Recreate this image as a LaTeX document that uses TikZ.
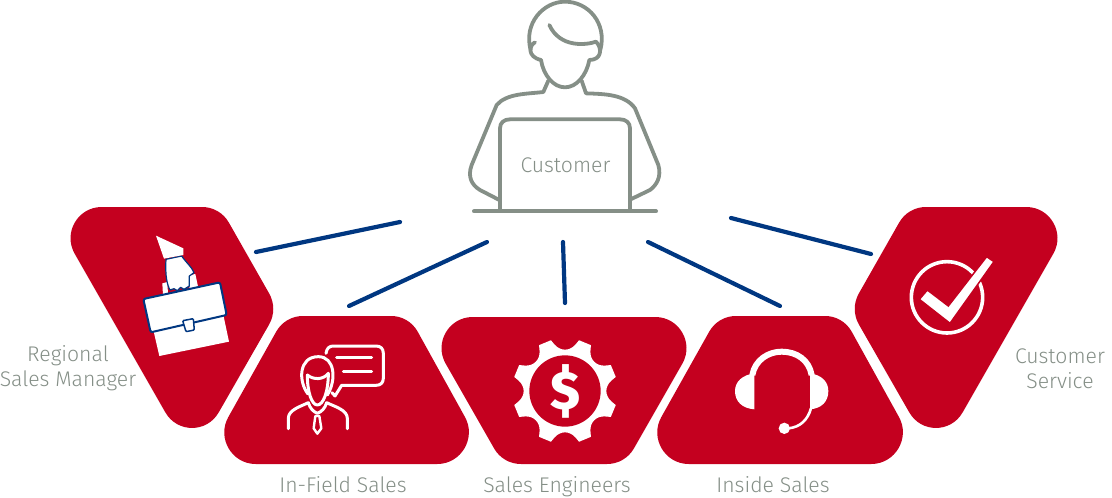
\documentclass[tikz,border=0pt]{standalone}
\usepackage{fontspec}
\usetikzlibrary{calc}
\setmainfont{Fira Sans Light}
\newfontfamily\boldf{Fira Sans}[UprightFont=* ExtraBold]
\definecolor{brandred}{HTML}{C4001F}
\definecolor{brandgray}{HTML}{858F87}
\definecolor{brandblue}{HTML}{003781}
% one rounded corner: previous point, corner, next point
\def\rcA#1#2#3{-- ($(#2)!53.7pt!(#1)$) .. controls ($(#2)!29.8pt!(#1)$) and ($(#2)!29.8pt!(#3)$) .. ($(#2)!53.7pt!(#3)$)}
\def\rcB#1#2#3{-- ($(#2)!17.9pt!(#1)$) .. controls ($(#2)!6.8pt!(#1)$) and ($(#2)!6.8pt!(#3)$) .. ($(#2)!17.9pt!(#3)$)}
\tikzset{
  panel/.style={fill=brandred},
  link/.style={draw=brandblue,line width=4.2pt,line cap=round},
  figline/.style={draw=brandgray,line width=3.8pt,line cap=round,line join=round},
  iconline/.style={draw=white,line width=3pt,line cap=round,line join=round},
  lab/.style={text=brandgray,align=center,font=\fontsize{21.2}{25}\selectfont},
  zoomA/.style={x=0.33333pt,y=-0.33333pt},
}
\begin{document}
\begin{tikzpicture}[x=1pt,y=-1pt]
\useasboundingbox (0,0) rectangle (1112,498);
% panels
\path[panel] (134,207) \rcB{48,207}{220,207}{278,309} \rcB{220,207}{278,309}{192,459} \rcA{278,309}{192,459}{48,207} \rcA{192,459}{48,207}{220,207} -- cycle;
\path[panel] (347,316) \rcB{285,316}{409,316}{491,464} \rcA{409,316}{491,464}{202,464} \rcA{491,464}{202,464}{285,316} \rcB{202,464}{285,316}{409,316} -- cycle;
\path[panel] (564,317) \rcA{419,317}{709,317}{625,464} \rcB{709,317}{625,464}{503,464} \rcB{625,464}{503,464}{419,317} \rcA{503,464}{419,317}{709,317} -- cycle;
\path[panel] (781,316) \rcB{719,316}{843,316}{925,464} \rcA{843,316}{925,464}{635,464} \rcA{925,464}{635,464}{718,316} \rcB{635,464}{718,316}{843,316} -- cycle;
\path[panel] (994,207) \rcA{908,207}{1080,207}{936,459} \rcA{1080,207}{936,459}{850,309} \rcB{936,459}{850,309}{908,207} \rcB{850,309}{908,207}{1080,207} -- cycle;
% connectors
\coordinate (a1) at (256,252); \coordinate (b1) at (400,222);
\coordinate (a2) at (349,306); \coordinate (b2) at (487,242);
\coordinate (a3) at (565,303); \coordinate (b3) at (563,242);
\coordinate (a4) at (780,306); \coordinate (b4) at (648,242);
\coordinate (a5) at (871,254); \coordinate (b5) at (731,218);
\draw[link] (a1) -- (b1);
\draw[link] (a2) -- (b2);
\draw[link] (a3) -- (b3);
\draw[link] (a4) -- (b4);
\draw[link] (a5) -- (b5);
% customer figure
\begin{scope}[shift={(460,0)},zoomA]
\draw[figline] (225,127) .. controls (208,135) and (200,170) .. (243,180)
  .. controls (250,225) and (280,262) .. (315,262)
  .. controls (350,262) and (380,225) .. (388,180)
  .. controls (425,180) and (428,145) .. (408,125)
  .. controls (380,135) and (300,145) .. (268,75);
\draw[figline] (212,150) .. controls (190,70) and (250,5) .. (315,5)
  .. controls (385,5) and (442,70) .. (421,150);
\draw[figline] (265,242) -- (250,276) .. controls (200,282) and (140,280) .. (110,315)
  -- (35,495) .. controls (22,530) and (35,555) .. (60,570) -- (118,600);
\draw[figline] (365,242) -- (378,280) .. controls (430,282) and (495,282) .. (525,325)
  -- (595,495) .. controls (605,530) and (590,555) .. (570,570) -- (512,598);
\draw[figline] (120,630) -- (120,385) .. controls (120,368) and (132,358) .. (150,358)
  -- (480,358) .. controls (498,358) and (510,368) .. (510,385) -- (510,630);
\draw[figline,line width=4pt] (42,634) -- (588,634);
\end{scope}
\node[lab,anchor=base] (customer) at (565.5,172) {Customer};
% labels
\node[lab] (rsm) at (68,368.5) {Regional\\Sales Manager};
\node[lab,anchor=base] (ifs) at (343,492.5) {In-Field Sales};
\node[lab,anchor=base] (se) at (557,492.5) {Sales Engineers};
\node[lab,anchor=base] (is) at (773,492.5) {Inside Sales};
\node[lab] (cs) at (1060,368.5) {Customer\\Service};
% briefcase and hand
\begin{scope}[shift={(60,200)},zoomA]
\fill[white] (280,390) -- (490,345) -- (507,425) -- (298,468) -- cycle;
\fill[white] (307,250) -- (322,246) -- (324,282) -- (309,286) -- cycle;
\fill[white] (388,226) -- (406,222) -- (415,264) -- (388,270) -- cycle;
\filldraw[fill=white,draw=brandblue,line width=1.2pt,line join=round] (318,178) -- (365,168)
  .. controls (380,190) and (395,200) .. (402,218) -- (388,228) -- (388,258)
  -- (372,268) -- (362,262) -- (352,272) -- (342,266) -- (330,270) .. controls (322,255) and (315,230) .. (318,178) -- cycle;
\fill[white] (288,107) -- (370,145) -- (370,165) -- (312,176) -- cycle;
\filldraw[fill=white,draw=brandblue,line width=2pt,rounded corners=2pt] (250,297) -- (480,247) -- (500,345) -- (272,397) -- cycle;
\filldraw[fill=white,draw=brandblue,line width=1.5pt,rounded corners=1pt] (368,362) -- (400,356) -- (403,390) -- (378,395) -- cycle;
\end{scope}
% person
\begin{scope}[shift={(220,310)},zoomA]
\draw[iconline] (264,252) .. controls (235,215) and (235,140) .. (295,140) .. controls (345,140) and (350,210) .. (322,255);
\draw[iconline] (262,195) .. controls (262,245) and (275,285) .. (292,285) .. controls (310,285) and (325,245) .. (325,190);
\draw[iconline] (262,195) .. controls (280,210) and (310,210) .. (325,190);
\draw[iconline] (205,356) -- (205,325) .. controls (205,300) and (240,290) .. (265,278) .. controls (270,295) and (280,305) .. (292,310) .. controls (305,305) and (315,295) .. (320,278) .. controls (345,290) and (382,300) .. (382,325) -- (382,356);
\draw[iconline,line width=2.4pt] (286,318) -- (298,318) -- (304,355) -- (292,371) -- (281,355) -- cycle;
\draw[iconline] (318,130) .. controls (320,115) and (328,108) .. (340,108) -- (468,108) .. controls (482,108) and (490,116) .. (490,130) -- (490,205) .. controls (490,218) and (482,226) .. (468,226) -- (365,226) -- (345,258) -- (336,248);
\draw[iconline] (350,143) -- (455,143);
\draw[iconline] (370,185) -- (455,185);
\end{scope}
% gear
\begin{scope}[shift={(440,310)},zoomA]
\begin{scope}[shift={(375,243)}]
\fill[white] (15.5:158)
  \foreach \a in {22.5,67.5,112.5,157.5,202.5,247.5,292.5,337.5} {
    -- ({\a-7}:158) -- ({\a+7}:158) -- ({\a+10}:142) .. controls ({\a+16}:120) and ({\a+29}:120) .. ({\a+35}:142)
  } -- cycle;
\fill[brandred] (0,0) circle[radius=107];
\end{scope}
\node[text=white,inner sep=0pt,font=\boldf\fontsize{54}{54}\selectfont] (dollar) at (375,243) {\$};
\end{scope}
% headset
\begin{scope}[shift={(655,310)},zoomA]
\fill[white] (298,190) .. controls (262,195) and (240,215) .. (240,243) .. controls (240,275) and (262,295) .. (298,298) -- cycle;
\fill[white] (465,190) .. controls (500,195) and (520,215) .. (520,243) .. controls (520,275) and (500,295) .. (465,298) -- cycle;
\draw[white,line width=6pt] (292,195) .. controls (300,150) and (340,125) .. (380,125) .. controls (425,125) and (462,150) .. (470,195);
\draw[white,line width=2.6pt] (468,295) .. controls (458,330) and (435,352) .. (400,355);
\fill[white] (388,355) circle[radius=17];
\end{scope}
% check
\begin{scope}[shift={(850,200)},zoomA]
\draw[white,line width=3.6pt] (291,292) circle[radius=107];
\filldraw[fill=white,draw=brandred,line width=1.5pt] (208,298) -- (232,270) -- (295,318) -- (410,170) -- (432,185) -- (300,370) -- cycle;
\end{scope}
\end{tikzpicture}
\end{document}
